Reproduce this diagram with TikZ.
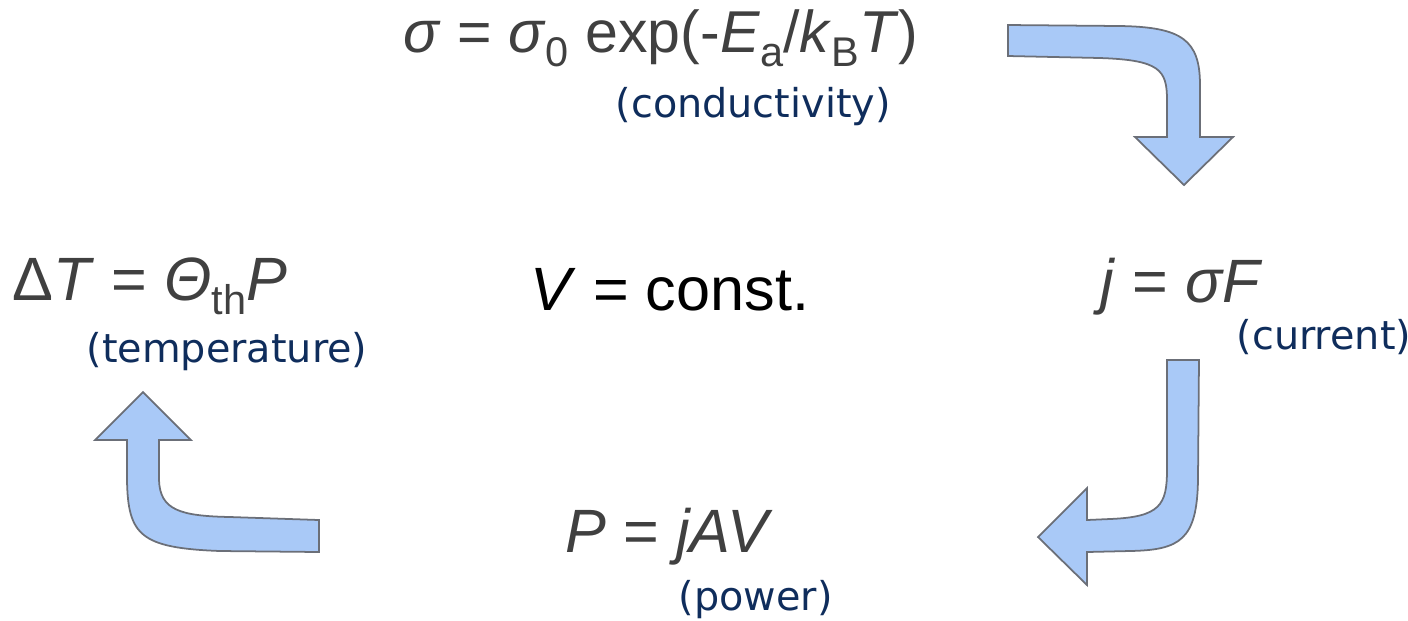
\documentclass[tikz,border=0pt]{standalone}
\usepackage{fontspec}
\setmainfont{Liberation Sans}
\newfontfamily\notefont{DejaVu Sans}
\usetikzlibrary{positioning}
\definecolor{EqGrey}{HTML}{404040}
\definecolor{NoteNavy}{HTML}{0F2D5C}
\definecolor{ArrowBlue}{HTML}{A9C9F7}
\definecolor{ArrowEdge}{HTML}{6B6F78}
\newcommand{\lo}[1]{\raisebox{-4pt}{\fontsize{11.8}{11.8}\selectfont #1}}

\begin{document}
\begin{tikzpicture}[x=0.01cm,y=-0.01cm,
  eq/.style={anchor=base west,inner sep=0pt,text=EqGrey,font=\fontsize{17.4}{20}\selectfont},
  note/.style={anchor=base west,inner sep=0pt,text=NoteNavy,font=\notefont\fontsize{11.3}{14}\selectfont},
  bendarrow/.style={fill=ArrowBlue,draw=ArrowEdge,line width=0.5pt,line join=miter}]
\useasboundingbox (0,0) rectangle (1408,620);
\node[eq,font=\fontsize{16.8}{20}\selectfont] (sigmaeq) at (403,52) {\textit{σ} = \textit{σ}\lo{0} exp(-\textit{E}\lo{a}/\textit{k}\lo{B}\textit{T})};
\node[note] (condnote) at (615,117) {(conductivity)};
\node[eq] (tempeq) at (12,300) {Δ\textit{T} = \textit{Θ}\lo{th}\textit{P}};
\node[note] (tempnote) at (86,362) {(temperature)};
\node[eq,text=black] (veq) at (530,310) {\textit{V} = const.};
\node[eq] (cureq) at (1100,302) {\textit{j} = \textit{σF}};
\node[note] (curnote) at (1236,349) {(current)};
\node[eq] (poweq) at (565,552) {\textit{P} = \textit{jAV}};
\node[note] (pownote) at (678,610) {(power)};
\draw[bendarrow] (1008,25) -- (1120,26) .. controls (1182,27) and (1200,40) .. (1200,85)
  -- (1200,137) -- (1233,137) -- (1184,185) -- (1135,137) -- (1167,137) -- (1167,100)
  .. controls (1167,70) and (1160,60) .. (1100,58) -- (1008,56) -- cycle;
\draw[bendarrow] (1167,360) -- (1199,360) -- (1198,480) .. controls (1197,540) and (1180,550) .. (1130,551)
  -- (1087,552) -- (1087,585) -- (1038,537) -- (1087,488) -- (1087,520) -- (1110,519)
  .. controls (1160,517) and (1167,505) .. (1167,470) -- cycle;
\draw[bendarrow] (319,520) -- (319,552) -- (220,551) .. controls (140,548) and (128,535) .. (127,480)
  -- (127,440) -- (95,440) -- (143,392) -- (191,440) -- (159,440) -- (159,480)
  .. controls (160,510) and (180,516) .. (230,517) -- cycle;
\end{tikzpicture}
\end{document}
